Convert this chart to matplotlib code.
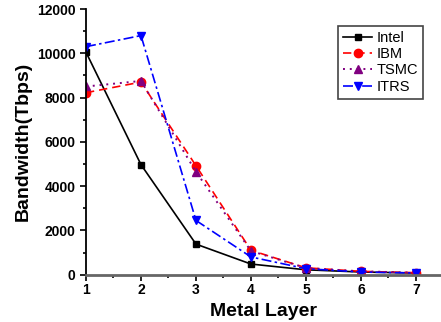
import matplotlib
matplotlib.use('Agg')
import matplotlib.pyplot as plt
from matplotlib.ticker import MultipleLocator

plt.rcParams['font.family'] = ['Liberation Sans', 'DejaVu Sans']

layers = [1, 2, 3, 4, 5, 6, 7]
intel = [10050, 4970, 1380, 480, 220, 120, 75]
ibm = [8220, 8700, 4920, 1100, 310, 150, 90]
tsmc = [8500, 8750, 4650, 1070, 300, 150, 90]
itrs = [10300, 10800, 2450, 800, 270, 120, 75]

fig = plt.figure(figsize=(4.41, 3.22), dpi=100)
ax = fig.add_axes([0.195, 0.147, 0.803, 0.825])

ax.plot(layers, intel, color='black', ls='-', lw=1.2, marker='s', ms=5, label='Intel')
ax.plot(layers, ibm, color='red', ls=(0, (5, 3)), lw=1.2, marker='o', ms=6, label='IBM')
ax.plot(layers, tsmc, color='purple', ls=(0, (1, 2.5)), lw=1.4, marker='^', ms=6, label='TSMC')
ax.plot(layers, itrs, color='blue', ls=(0, (6, 2, 1.5, 2)), lw=1.2, marker='v', ms=6, label='ITRS')

ax.set_xlim(1, 7.44)
ax.set_ylim(0, 12000)
ax.xaxis.set_major_locator(MultipleLocator(1))
ax.xaxis.set_minor_locator(MultipleLocator(0.5))
ax.yaxis.set_major_locator(MultipleLocator(2000))
ax.yaxis.set_minor_locator(MultipleLocator(1000))

ax.spines['top'].set_visible(False)
ax.spines['right'].set_visible(False)
ax.spines['bottom'].set_color('#666666')
ax.spines['bottom'].set_linewidth(2)
ax.spines['left'].set_linewidth(1.3)

ax.tick_params(axis='both', which='major', direction='out', length=4, width=1.2, labelsize=10)
ax.tick_params(axis='both', which='minor', direction='out', length=2.5, width=1.2)
ax.tick_params(axis='x', colors='black', pad=2)
for lab in ax.get_xticklabels() + ax.get_yticklabels():
    lab.set_fontweight('bold')

ax.set_xlabel('Metal Layer', fontsize=14, fontweight='bold', labelpad=4)
ax.set_ylabel('Bandwidth(Tbps)', fontsize=14, fontweight='bold', labelpad=4)

leg = ax.legend(loc='upper right', bbox_to_anchor=(0.952, 0.936), fontsize=10.5, fancybox=False,
                edgecolor='#444444', handlelength=2.0, handletextpad=0.3, borderpad=0.35,
                labelspacing=0.15, borderaxespad=0, framealpha=1)
leg.get_frame().set_linewidth(1.2)

fig.savefig('out.png', dpi=100)
